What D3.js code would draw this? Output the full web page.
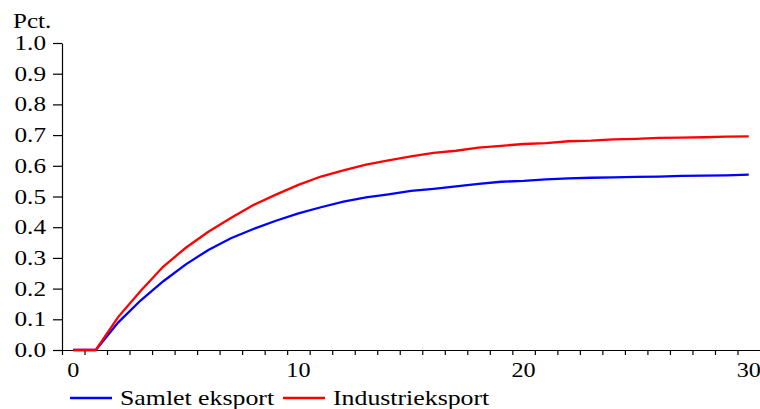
<!DOCTYPE html>
<html>
<head>
<meta charset="utf-8">
<script src="https://cdn.jsdelivr.net/npm/d3@7"></script>
<style>
  body { margin: 0; background: #fff; }
  text { font-family: "Liberation Serif", "Times New Roman", serif; fill: #000; }
</style>
</head>
<body>
<div id="graf"></div>
<script>
const periods = d3.range(0, 31)
const samlet = [0, 0, 0.09, 0.162, 0.224, 0.279, 0.326, 0.364, 0.394, 0.421, 0.445,
  0.465, 0.483, 0.497, 0.507, 0.518, 0.525, 0.533, 0.541, 0.548, 0.551,
  0.556, 0.559, 0.561, 0.562, 0.564, 0.565, 0.567, 0.568, 0.569, 0.571]
const industri = [0, 0, 0.108, 0.193, 0.272, 0.333, 0.385, 0.43, 0.472, 0.506, 0.538,
  0.565, 0.585, 0.604, 0.618, 0.631, 0.642, 0.649, 0.659, 0.665, 0.671,
  0.674, 0.68, 0.682, 0.686, 0.688, 0.691, 0.692, 0.693, 0.695, 0.696]
const xLabels = [0, 10, 20, 30]
const yTicks = d3.range(0, 11).map((d) => d / 10)
const series = [
  { name: "Samlet eksport", values: samlet, color: "#0000ff" },
  { name: "Industrieksport", values: industri, color: "#ff0000" },
]

const W = 760
const H = 409
const margins = { left: 62, top: 43, right: 0, bottom: 59 }

const svg = d3.select("#graf").append("svg").attr("width", W).attr("height", H)

const x = d3.scaleLinear().domain([-0.5, 30.5]).range([margins.left, W - margins.right])
const y = d3.scaleLinear().domain([0, 1]).range([H - margins.bottom, margins.top])

// the reference text is stretched sideways
const label = (px, py, txt, anchor, size, sx) =>
  svg.append("text")
    .attr("transform", `translate(${px}, ${py}) scale(${sx}, 1)`)
    .attr("text-anchor", anchor)
    .style("font-size", size + "px")
    .text(txt)

// x axis: ticks between periods, labels every 10
const xAxis = d3.axisBottom(x)
  .tickValues(d3.range(-0.5, 30, 1))
  .tickSize(5)
  .tickSizeOuter(0)
  .tickFormat("")
svg.append("g")
  .attr("transform", `translate(0, ${y(0)})`)
  .call(xAxis)
  .call((g) => g.selectAll("line,path").attr("stroke", "#000").attr("stroke-width", 1.2))

xLabels.forEach((d) => label(x(d), 377, d, "middle", 21, 1.15))

// y axis
const yAxis = d3.axisLeft(y).tickValues(yTicks).tickSize(9).tickSizeOuter(0).tickFormat("")
svg.append("g")
  .attr("transform", `translate(${margins.left}, 0)`)
  .call(yAxis)
  .call((g) => g.selectAll("line,path").attr("stroke", "#000").attr("stroke-width", 1.2))

yTicks.forEach((d) => label(46, y(d) + 7, d3.format(".1f")(d), "end", 21, 1.2))
label(13, 28, "Pct.", "start", 20, 1.25)

// lines
const line = d3.line()
  .x((d, i) => x(periods[i]))
  .y((d) => y(d))

svg.selectAll(".serie")
  .data(series)
  .join("path")
  .attr("class", "serie")
  .attr("d", (d) => line(d.values))
  .attr("fill", "none")
  .attr("stroke", (d) => d.color)
  .attr("stroke-width", 2.3)

// legend
const legendX = [70, 283]
series.forEach((s, i) => {
  svg.append("line")
    .attr("x1", legendX[i]).attr("x2", legendX[i] + 42)
    .attr("y1", 398).attr("y2", 398)
    .attr("stroke", s.color)
    .attr("stroke-width", 2.3)
  label(legendX[i] + 50, 405, s.name, "start", 21, 1.23)
})
</script>
</body>
</html>
